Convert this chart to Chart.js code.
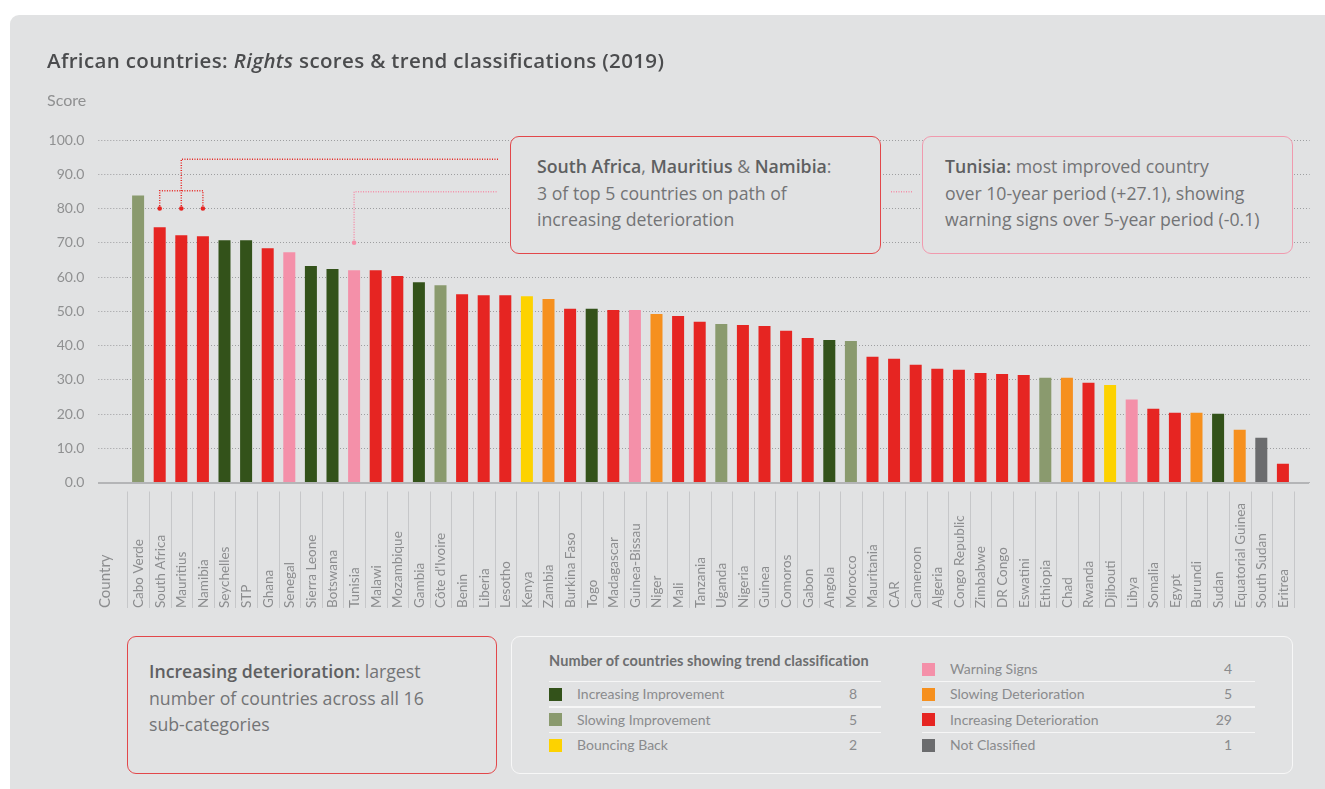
<!DOCTYPE html>
<html>
<head>
<meta charset="utf-8">
<script src="https://cdn.jsdelivr.net/npm/chart.js@4.4.1/dist/chart.umd.min.js"></script>
<style>
  body { margin: 0; background: #fff; width: 1325px; height: 789px; overflow: hidden; position: relative; font-family: Lato, 'Open Sans', sans-serif; }
  #panel { position: absolute; left: 10px; top: 15px; width: 1340px; height: 800px; background: #e1e2e3; border-radius: 9px; }
  #wrap { position: absolute; left: 0; top: 0; width: 1325px; height: 789px; }
  .t { position: absolute; white-space: nowrap; }
  .box { position: absolute; box-sizing: border-box; background: #e1e2e3; border: 1.5px solid #e2474a; border-radius: 9px; color: #737476; font-family: 'Open Sans', sans-serif; font-size: 17.7px; line-height: 26.5px; white-space: nowrap; }
  .box b { color: #5e5f61; font-weight: 600; }
  .leg { position: absolute; font-size: 14px; color: #8a8b8d; white-space: nowrap; font-family: Lato, sans-serif; }
  .sw { position: absolute; width: 13px; height: 13px; }
  .sep { position: absolute; height: 1.5px; background: #f6f6f6; }
</style>
</head>
<body>
<div id="panel"></div>
<div id="wrap"><canvas id="chart" width="1325" height="789"></canvas></div>

<div class="t" style="left:47px;top:46px;font-family:'Open Sans',sans-serif;font-size:20.5px;font-weight:600;letter-spacing:0.35px;color:#4b4c4e;line-height:28px;">African countries: <i>Rights</i> scores &amp; trend classifications (2019)</div>
<div class="t" style="left:47px;top:89px;font-size:16px;color:#8f9091;line-height:22px;">Score</div>

<div class="box" style="left:510px;top:136px;width:371px;height:118px;padding:16px 0 0 26px;">
  <b>South Africa</b>, <b>Mauritius</b> &amp; <b>Namibia</b>:<br>3 of top 5 countries on path of<br>increasing deterioration
</div>
<div class="box" style="left:922px;top:136px;width:371px;height:118px;padding:16px 0 0 22px;border-color:#f09aae;">
  <b>Tunisia:</b> most improved country<br>over 10-year period (+27.1), showing<br>warning signs over 5-year period (-0.1)
</div>
<div class="box" style="left:127px;top:636px;width:370px;height:138px;padding:21px 0 0 21px;">
  <b>Increasing deterioration:</b> largest<br>number of countries across all 16<br>sub-categories
</div>
<div class="box" id="legend" style="left:511px;top:636px;width:782px;height:138px;border-color:#f7f7f7;"></div>

<script>
// scores for 2019
const countries = ['Cabo Verde', 'South Africa', 'Mauritius', 'Namibia', 'Seychelles', 'STP', 'Ghana', 'Senegal',
  'Sierra Leone', 'Botswana', 'Tunisia', 'Malawi', 'Mozambique', 'Gambia', "Côte d'Ivoire", 'Benin', 'Liberia',
  'Lesotho', 'Kenya', 'Zambia', 'Burkina Faso', 'Togo', 'Madagascar', 'Guinea-Bissau', 'Niger', 'Mali', 'Tanzania',
  'Uganda', 'Nigeria', 'Guinea', 'Comoros', 'Gabon', 'Angola', 'Morocco', 'Mauritania', 'CAR', 'Cameroon', 'Algeria',
  'Congo Republic', 'Zimbabwe', 'DR Congo', 'Eswatini', 'Ethiopia', 'Chad', 'Rwanda', 'Djibouti', 'Libya', 'Somalia',
  'Egypt', 'Burundi', 'Sudan', 'Equatorial Guinea', 'South Sudan', 'Eritrea'];

const scores = [83.8, 74.5, 72.2, 71.9, 70.7, 70.7, 68.4, 67.2,
  63.2, 62.3, 62.0, 62.0, 60.3, 58.5, 57.6, 55.0, 54.7,
  54.7, 54.4, 53.6, 50.7, 50.7, 50.4, 50.4, 49.2, 48.6, 46.9,
  46.3, 46.0, 45.7, 44.3, 42.2, 41.6, 41.3, 36.7, 36.1, 34.4, 33.2,
  32.9, 32.0, 31.7, 31.4, 30.6, 30.6, 29.1, 28.5, 24.2, 21.5,
  20.4, 20.4, 20.1, 15.4, 13.1, 5.5];

// II increasing improvement, SI slowing improvement, BB bouncing back, WS warning signs,
// SD slowing deterioration, ID increasing deterioration, NC not classified
const trends = ['SI', 'ID', 'ID', 'ID', 'II', 'II', 'ID', 'WS',
  'II', 'II', 'WS', 'ID', 'ID', 'II', 'SI', 'ID', 'ID',
  'ID', 'BB', 'SD', 'ID', 'II', 'ID', 'WS', 'SD', 'ID', 'ID',
  'SI', 'ID', 'ID', 'ID', 'ID', 'II', 'SI', 'ID', 'ID', 'ID', 'ID',
  'ID', 'ID', 'ID', 'ID', 'SI', 'SD', 'ID', 'BB', 'WS', 'ID',
  'ID', 'SD', 'II', 'SD', 'NC', 'ID'];

const trendCodes = ['II', 'SI', 'BB', 'WS', 'SD', 'ID', 'NC'];
const trendNames = ['Increasing Improvement', 'Slowing Improvement', 'Bouncing Back', 'Warning Signs',
  'Slowing Deterioration', 'Increasing Deterioration', 'Not Classified'];
const trendColors = ['#33521a', '#8a9a6e', '#fdd200', '#f490a9', '#f6901e', '#e62522', '#6b6c6e'];

const yMin = 0;
const yMax = 100;
const yStep = 10;

let barColors = trends.map(code => trendColors[trendCodes.indexOf(code)]);

// legend table
let legendBox = document.getElementById('legend');
let legendHtml = '<div class="t" style="left:37px;top:14px;font-family:Lato,sans-serif;font-size:14.5px;font-weight:bold;color:#6d6e70;line-height:20px;letter-spacing:0.1px;">Number of countries showing trend classification</div>';
trendCodes.forEach((code, i) => {
  let count = trends.filter(t => t === code).length;
  let left = i < 3 ? 37 : 410;
  let row = i < 3 ? i + 1 : i - 3;
  let cy = 32 + row * 25.4;
  legendHtml += `<div class="sw" style="left:${left}px;top:${cy - 6.5}px;background:${trendColors[i]}"></div>`;
  legendHtml += `<div class="leg" style="left:${left + 28}px;top:${cy - 10}px;line-height:20px;">${trendNames[i]}</div>`;
  legendHtml += `<div class="leg" style="left:${left}px;width:${i < 3 ? 308 : 310}px;text-align:right;top:${cy - 10}px;line-height:20px;">${count}</div>`;
  if (row > 0) {
    legendHtml += `<div class="sep" style="left:${left}px;top:${cy - 13.5}px;width:${i < 3 ? 332 : 333}px;"></div>`;
  }
});
legendBox.innerHTML = legendHtml;

// baseline, category dividers, labels, connectors
const extras = {
  id: 'extras',
  afterDatasetsDraw(chart) {
    const ctx = chart.ctx;
    const xs = chart.scales.x;
    const ys = chart.scales.y;
    const half = (xs.getPixelForValue(1) - xs.getPixelForValue(0)) / 2;
    const y0 = ys.getPixelForValue(0);

    ctx.save();
    ctx.fillStyle = '#b4b5b7';
    ctx.fillRect(98, y0 - 0.5, 1211, 2);

    ctx.strokeStyle = '#c6c7c9';
    ctx.lineWidth = 1;
    for (let i = 0; i <= countries.length; i++) {
      let x = Math.round(xs.getPixelForValue(i) - half) + 0.5;
      ctx.beginPath();
      ctx.moveTo(x, y0 + 9);
      ctx.lineTo(x, 608);
      ctx.stroke();
    }

    ctx.fillStyle = '#8c8d8f';
    ctx.font = '13.5px Lato';
    ctx.textAlign = 'left';
    ctx.textBaseline = 'middle';
    countries.forEach((name, i) => {
      ctx.save();
      ctx.translate(xs.getPixelForValue(i) + 0.5, 608);
      ctx.rotate(-Math.PI / 2);
      ctx.fillText(name, 0, 0);
      ctx.restore();
    });
    ctx.font = '15px Lato';
    ctx.save();
    ctx.translate(105, 608);
    ctx.rotate(-Math.PI / 2);
    ctx.fillText('Country', 0, 0);
    ctx.restore();

    // connector lines to the annotation boxes
    const drawLink = (color, pts) => {
      ctx.strokeStyle = color;
      ctx.lineWidth = 1.5;
      ctx.setLineDash([1, 1.5]);
      ctx.beginPath();
      ctx.moveTo(pts[0][0], pts[0][1]);
      pts.slice(1).forEach(p => ctx.lineTo(p[0], p[1]));
      ctx.stroke();
    };
    const dot = (color, x, y) => {
      ctx.setLineDash([]);
      ctx.fillStyle = color;
      ctx.beginPath();
      ctx.arc(x, y, 2.3, 0, Math.PI * 2);
      ctx.fill();
    };
    const red = '#e62522';
    const pink = '#f490a9';
    const xSA = xs.getPixelForValue(countries.indexOf('South Africa'));
    const xMU = xs.getPixelForValue(countries.indexOf('Mauritius'));
    const xNA = xs.getPixelForValue(countries.indexOf('Namibia'));
    const xTN = xs.getPixelForValue(countries.indexOf('Tunisia'));
    const y80 = ys.getPixelForValue(80);
    const yBracket = ys.getPixelForValue(85.2);
    const yTop = ys.getPixelForValue(94.4);
    const yPink = ys.getPixelForValue(84.9);
    drawLink(red, [[xSA, y80], [xSA, yBracket], [xNA, yBracket], [xNA, y80]]);
    drawLink(red, [[xMU, y80], [xMU, yTop], [498, yTop]]);
    drawLink(pink, [[xTN, ys.getPixelForValue(70)], [xTN, yPink], [498, yPink]]);
    drawLink(pink, [[891, yPink], [912, yPink]]);
    dot(red, xSA, y80);
    dot(red, xMU, y80);
    dot(red, xNA, y80);
    dot(pink, xTN, ys.getPixelForValue(70));
    ctx.restore();
  }
};

Chart.defaults.font.family = 'Lato';

new Chart(document.getElementById('chart').getContext('2d'), {
  type: 'bar',
  data: {
    labels: countries,
    datasets: [{
      data: scores,
      backgroundColor: barColors,
      borderWidth: 0,
      barPercentage: 0.556,
      categoryPercentage: 1
    }]
  },
  options: {
    responsive: false,
    animation: false,
    events: [],
    layout: { padding: { left: 47, right: 15.3, top: 140, bottom: 306.5 } },
    plugins: { legend: { display: false }, tooltip: { enabled: false } },
    scales: {
      x: { display: false },
      y: {
        min: yMin,
        max: yMax,
        ticks: { stepSize: yStep, padding: 14, color: '#8f9091', font: { size: 14 }, callback: v => v.toFixed(1) },
        grid: { color: '#9d9ea0', lineWidth: 1, tickLength: 29, tickColor: '#9d9ea0', tickBorderDash: [1, 2] },
        border: { display: false, dash: [1, 2] },
        afterFit: scale => { scale.width = 80.3; }
      },
      y2: {
        position: 'right',
        min: yMin,
        max: yMax,
        ticks: { stepSize: yStep, display: false },
        grid: { drawOnChartArea: false, tickLength: 16, tickColor: '#9d9ea0', tickBorderDash: [1, 2] },
        border: { display: false }
      }
    }
  },
  plugins: [extras]
});
</script>
</body>
</html>
